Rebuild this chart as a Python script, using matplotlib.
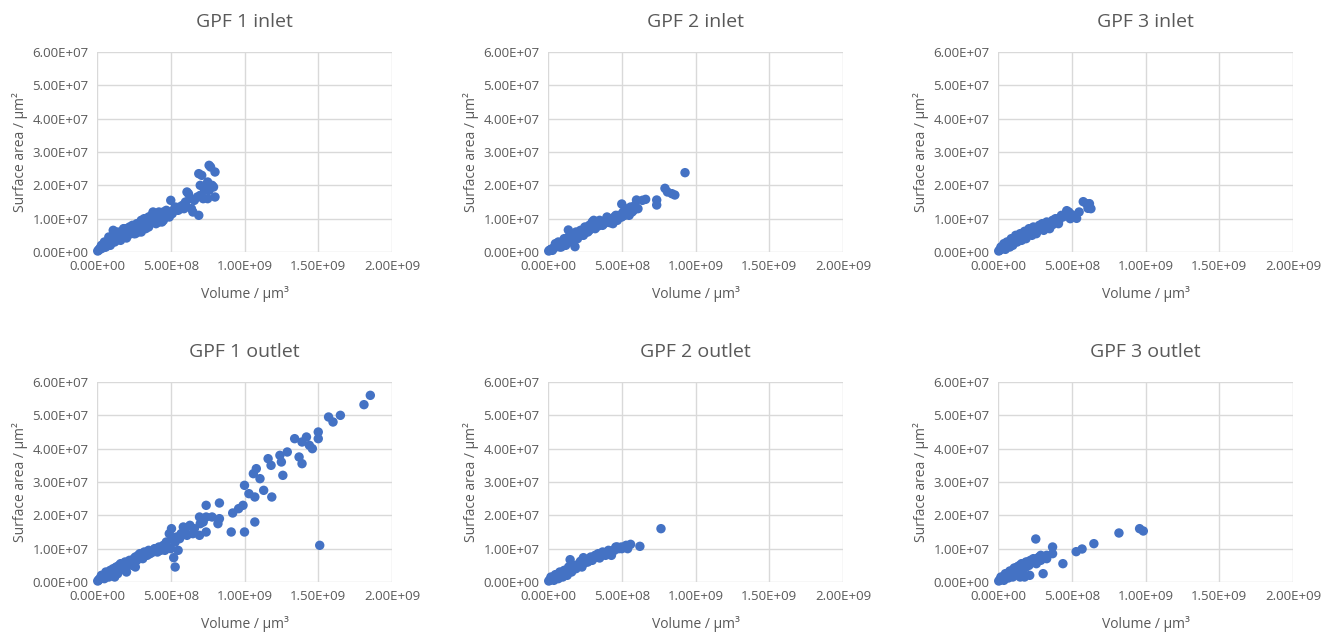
import matplotlib
matplotlib.use("Agg")
import matplotlib.pyplot as plt
from matplotlib.ticker import FuncFormatter

plt.rcParams['font.family'] = ['Open Sans', 'DejaVu Sans']

# Values: volume in units of 1e8 µm³, surface area in units of 1e7 µm²
titles = ["GPF 1 inlet", "GPF 2 inlet", "GPF 3 inlet",
          "GPF 1 outlet", "GPF 2 outlet", "GPF 3 outlet"]

gpf1_in_vol = [0.05, 0.1, 0.15, 0.2, 0.25, 0.3, 0.35, 0.4, 0.5, 0.6, 0.5, 0.7, 0.8, 0.9, 0.7, 1.0, 1.0, 1.1,
               1.2, 1.2, 1.3, 1.4, 1.5, 1.5, 1.6, 1.7, 1.8, 1.8, 1.9, 2.0, 2.0, 2.1, 2.2, 2.3, 2.4, 2.5,
               2.6, 2.6, 2.7, 2.8, 2.9, 3.0, 3.0, 3.1, 3.2, 3.3, 3.4, 3.5, 3.5, 3.6, 3.7, 3.8, 3.8, 3.9,
               4.0, 4.1, 4.2, 4.3, 4.4, 4.5, 4.5, 4.6, 4.8, 5.0, 5.0, 5.2, 5.4, 5.6, 5.8, 5.9, 6.1, 6.2,
               6.3, 6.4, 6.5, 6.9, 6.8, 6.9, 7.1, 7.2, 7.3, 7.5, 7.5, 7.6, 7.7, 7.8, 7.9, 8.0, 8.0, 7.6,
               0.3, 0.5, 0.6, 0.8, 0.9, 1.1, 1.3, 1.4, 1.6, 1.7, 1.9, 2.1, 2.2, 2.4, 2.5, 2.7, 2.8, 3.0,
               3.2, 3.3, 3.5, 3.7, 3.9, 4.0, 4.2, 4.4, 4.7, 4.9, 5.1, 5.3, 5.5, 5.7, 6.0, 6.0, 6.6, 7.0,
               7.4, 7.0]
gpf1_in_area = [0.03, 0.05, 0.08, 0.1, 0.12, 0.1, 0.15, 0.18, 0.2, 0.25, 0.14, 0.28, 0.3, 0.35, 0.2, 0.38, 0.28, 0.65,
                0.42, 0.3, 0.5, 0.45, 0.55, 0.4, 0.5, 0.6, 0.7, 0.45, 0.55, 0.6, 0.42, 0.65, 0.55, 0.7, 0.6, 0.75,
                0.8, 0.55, 0.7, 0.75, 0.85, 0.8, 0.6, 0.9, 0.75, 0.85, 0.95, 0.9, 0.75, 1.0, 0.9, 1.05, 1.2, 0.95,
                1.1, 1.0, 0.9, 1.15, 1.1, 1.2, 0.95, 1.05, 1.15, 1.55, 1.2, 1.25, 1.3, 1.35, 1.4, 1.3, 1.8, 1.75,
                1.6, 1.3, 1.2, 1.1, 1.65, 2.35, 2.3, 1.6, 1.85, 2.1, 1.6, 2.6, 2.55, 2.0, 1.95, 2.4, 1.65, 1.85,
                0.2, 0.3, 0.15, 0.45, 0.2, 0.5, 0.35, 0.6, 0.35, 0.45, 0.7, 0.5, 0.75, 0.8, 0.55, 0.85, 0.6, 0.95,
                1.0, 0.7, 1.05, 1.1, 1.15, 0.85, 1.2, 0.9, 1.25, 1.05, 1.15, 1.35, 1.25, 1.3, 1.5, 1.4, 1.55, 1.7,
                1.95, 2.0]

gpf2_in_vol = [0.05, 0.1, 0.15, 0.2, 0.3, 0.4, 0.5, 0.6, 0.7, 0.8, 0.9, 1.0, 0.8, 1.1, 1.2, 1.3, 1.38, 1.4, 1.5,
               1.6, 1.7, 1.83, 1.8, 1.9, 2.0, 2.1, 2.2, 2.3, 2.4, 2.5, 2.6, 2.7, 2.8, 2.9, 3.0, 3.1, 3.2,
               3.3, 3.4, 3.5, 3.6, 3.7, 3.8, 3.9, 4.0, 4.1, 4.2, 4.3, 4.4, 4.5, 4.6, 4.8, 5.0, 5.0, 5.2,
               5.3, 5.5, 5.6, 5.8, 6.0, 6.1, 6.4, 6.62, 7.37, 7.37, 7.93, 8.1, 8.4, 8.6, 9.29,
               0.3, 0.5, 0.7, 0.9, 1.1, 1.2, 1.4, 1.6, 1.7, 1.9, 2.0, 2.2, 2.4, 2.5, 2.7, 2.8, 3.0, 3.1,
               3.2, 3.5, 3.7, 4.0, 4.2, 4.4, 4.6, 4.7, 4.9, 5.1, 5.4, 5.5, 5.7, 5.9]
gpf2_in_area = [0.03, 0.05, 0.06, 0.08, 0.1, 0.12, 0.15, 0.2, 0.18, 0.25, 0.22, 0.3, 0.15, 0.32, 0.28, 0.35, 0.66, 0.3, 0.4,
                0.38, 0.45, 0.16, 0.5, 0.45, 0.5, 0.55, 0.5, 0.6, 0.58, 0.65, 0.6, 0.7, 0.65, 0.75, 0.72, 0.8, 0.75,
                0.8, 0.78, 0.85, 0.82, 0.9, 0.85, 0.95, 0.9, 0.95, 0.88, 1.0, 0.95, 1.05, 1.0, 1.1, 1.44, 1.05, 1.1,
                1.2, 1.15, 1.35, 1.25, 1.56, 1.3, 1.55, 1.58, 1.56, 1.41, 1.91, 1.8, 1.75, 1.71, 2.38,
                0.05, 0.25, 0.3, 0.15, 0.4, 0.2, 0.45, 0.3, 0.55, 0.6, 0.4, 0.65, 0.5, 0.75, 0.6, 0.8, 0.9, 0.95,
                0.7, 0.95, 0.8, 1.05, 1.0, 0.85, 1.1, 0.95, 1.05, 1.2, 1.3, 1.1, 1.2, 1.4]

gpf3_in_vol = [0.05, 0.1, 0.15, 0.2, 0.3, 0.4, 0.5, 0.6, 0.7, 0.8, 0.9, 1.0, 1.1, 1.2, 1.3, 1.4, 1.5, 1.6,
               1.7, 1.8, 1.9, 2.0, 2.1, 2.2, 2.3, 2.4, 2.5, 2.6, 2.8, 3.0, 3.1, 3.2, 3.4, 3.6, 3.7, 3.8,
               4.0, 4.1, 4.2, 4.4, 4.5, 4.66, 4.8, 5.0, 5.33, 5.5, 5.78, 6.0, 6.1, 6.2, 6.3,
               0.2, 0.4, 0.5, 0.6, 0.8, 0.9, 1.0, 1.2, 1.3, 1.5, 1.6, 1.8, 1.9, 2.1, 2.3, 2.4, 2.6, 2.8,
               3.0, 3.3, 3.5, 3.7, 3.9, 4.1, 4.3, 4.6, 4.8, 4.9]
gpf3_in_area = [0.03, 0.05, 0.07, 0.08, 0.12, 0.15, 0.18, 0.22, 0.25, 0.28, 0.3, 0.35, 0.38, 0.4, 0.42, 0.45, 0.48, 0.5,
                0.52, 0.55, 0.58, 0.6, 0.62, 0.65, 0.6, 0.7, 0.68, 0.72, 0.75, 0.78, 0.65, 0.82, 0.85, 0.88, 0.82, 0.95,
                0.98, 0.9, 1.02, 1.05, 1.1, 1.24, 1.15, 1.12, 1.01, 1.2, 1.51, 1.45, 1.31, 1.45, 1.3,
                0.15, 0.25, 0.08, 0.3, 0.15, 0.4, 0.2, 0.5, 0.3, 0.55, 0.35, 0.62, 0.4, 0.7, 0.5, 0.75, 0.55, 0.8,
                0.85, 0.9, 0.7, 0.95, 1.0, 0.85, 1.1, 1.15, 1.2, 1.0]

gpf1_out_vol = [0.05, 0.1, 0.15, 0.2, 0.3, 0.4, 0.5, 0.6, 0.7, 0.8, 0.9, 1.0, 1.1, 1.2, 1.2, 1.3, 1.4, 1.5, 1.6,
                1.8, 2.0, 2.2, 2.4, 2.6, 2.6, 2.8, 3.1, 3.3, 3.6, 3.8, 4.0, 4.3, 4.7, 4.9, 5.05, 5.2, 5.3,
                5.5, 5.7, 5.85, 6.3, 6.5, 6.95, 6.95, 7.4, 7.4, 7.4, 7.8, 8.2, 8.3, 8.3, 9.1, 9.2, 9.6, 9.9,
                10.0, 10.0, 10.3, 10.6, 10.7, 10.7, 10.8, 11.05, 11.3, 11.6, 11.8, 11.85, 12.4, 12.5, 12.6,
                12.9, 13.4, 13.7, 13.9, 13.9, 14.2, 14.4, 14.6, 15.0, 15.0, 15.1, 15.7, 16.0, 16.5, 18.1, 18.53,
                0.3, 0.5, 0.6, 0.8, 0.9, 1.0, 1.1, 1.3, 1.4, 1.5, 1.6, 1.7, 1.9, 2.1, 2.2, 2.3, 2.4, 2.5,
                2.7, 2.9, 3.0, 3.2, 3.4, 3.5, 3.7, 3.9, 4.1, 4.2, 4.4, 4.5, 4.6, 4.8, 5.0, 5.1, 5.3, 5.4,
                5.6, 6.0, 6.1, 6.6, 7.0, 7.2]
gpf1_out_area = [0.03, 0.05, 0.08, 0.1, 0.12, 0.15, 0.18, 0.2, 0.22, 0.25, 0.28, 0.3, 0.25, 0.4, 0.15, 0.35, 0.45, 0.5, 0.45,
                 0.55, 0.3, 0.6, 0.65, 0.75, 0.45, 0.8, 0.7, 0.85, 0.85, 0.9, 1.0, 0.95, 1.2, 1.45, 1.6, 0.73, 0.45,
                 0.95, 1.45, 1.65, 1.7, 1.45, 1.95, 1.4, 2.3, 1.95, 1.5, 1.95, 1.75, 2.37, 1.9, 1.5, 2.07, 2.2, 2.3,
                 2.9, 1.5, 2.65, 3.25, 2.55, 1.8, 3.4, 3.1, 2.75, 3.7, 3.5, 2.55, 3.8, 3.6, 3.2,
                 3.9, 4.3, 3.75, 4.2, 3.55, 4.35, 4.1, 4.0, 4.5, 4.3, 1.1, 4.95, 4.8, 5.0, 5.32, 5.6,
                 0.2, 0.1, 0.3, 0.15, 0.35, 0.2, 0.4, 0.45, 0.25, 0.35, 0.55, 0.4, 0.6, 0.5, 0.65, 0.55, 0.5, 0.7,
                 0.65, 0.85, 0.75, 0.9, 0.8, 0.95, 0.9, 1.0, 0.9, 1.05, 1.0, 1.1, 0.95, 1.05, 1.0, 1.3, 1.2, 1.35,
                 1.3, 1.5, 1.4, 1.6, 1.75, 1.8]

gpf2_out_vol = [0.05, 0.1, 0.15, 0.2, 0.3, 0.4, 0.5, 0.6, 0.7, 0.8, 0.9, 1.0, 1.1, 1.2, 1.3, 1.5, 1.4, 1.6,
                1.8, 2.0, 2.2, 2.3, 2.4, 2.6, 2.8, 3.0, 3.1, 3.3, 3.4, 3.6, 3.8, 4.0, 4.2, 4.4, 4.6, 4.8,
                4.98, 5.2, 5.4, 5.6, 6.23, 7.66,
                0.2, 0.4, 0.5, 0.7, 0.8, 1.0, 1.1, 1.3, 1.4, 1.6, 1.7, 1.9, 2.1, 2.2, 2.4, 2.5, 2.7, 2.9,
                3.0, 3.2, 3.4, 3.5, 3.7, 3.9, 4.1, 4.3, 4.5, 4.7, 5.0, 5.3]
gpf2_out_area = [0.03, 0.05, 0.07, 0.08, 0.1, 0.12, 0.15, 0.18, 0.2, 0.22, 0.25, 0.28, 0.3, 0.32, 0.35, 0.67, 0.38, 0.42,
                 0.45, 0.5, 0.52, 0.45, 0.73, 0.6, 0.65, 0.7, 0.72, 0.8, 0.75, 0.82, 0.85, 0.88, 0.85, 0.95, 1.05, 1.0,
                 1.05, 1.05, 1.0, 1.13, 1.07, 1.6,
                 0.15, 0.05, 0.22, 0.1, 0.3, 0.15, 0.35, 0.2, 0.45, 0.3, 0.5, 0.4, 0.55, 0.62, 0.55, 0.68, 0.6, 0.75,
                 0.65, 0.8, 0.85, 0.72, 0.9, 0.8, 0.95, 0.8, 0.95, 1.05, 1.0, 1.1]

gpf3_out_vol = [0.05, 0.1, 0.15, 0.2, 0.3, 0.4, 0.5, 0.6, 0.7, 0.8, 0.9, 1.0, 1.1, 1.2, 1.3, 1.0, 1.5, 1.6,
                1.8, 1.9, 2.0, 2.15, 2.2, 2.4, 2.56, 2.6, 2.8, 2.9, 3.06, 3.3, 3.7, 3.7, 4.4, 5.3, 5.7, 6.5,
                8.2, 9.6, 9.85,
                0.2, 0.4, 0.5, 0.7, 0.8, 1.0, 1.1, 1.2, 1.4, 1.4, 1.6, 1.7, 1.9, 2.1, 2.3, 2.5, 2.7, 2.9,
                3.1, 3.3, 1.5, 1.8]
gpf3_out_area = [0.03, 0.05, 0.07, 0.1, 0.12, 0.15, 0.18, 0.2, 0.25, 0.28, 0.3, 0.35, 0.38, 0.4, 0.45, 0.15, 0.5, 0.3,
                 0.55, 0.45, 0.6, 0.2, 0.65, 0.7, 1.29, 0.55, 0.75, 0.8, 0.25, 0.7, 1.05, 0.85, 0.55, 0.91, 0.99, 1.15,
                 1.47, 1.6, 1.53,
                 0.15, 0.05, 0.25, 0.12, 0.33, 0.2, 0.42, 0.25, 0.48, 0.2, 0.55, 0.35, 0.6, 0.5, 0.65, 0.6, 0.72, 0.65,
                 0.75, 0.8, 0.15, 0.15]

x_ticks = [0, 5, 10, 15, 20]
y_ticks = [0, 1, 2, 3, 4, 5, 6]

series = [(gpf1_in_vol, gpf1_in_area), (gpf2_in_vol, gpf2_in_area), (gpf3_in_vol, gpf3_in_area),
          (gpf1_out_vol, gpf1_out_area), (gpf2_out_vol, gpf2_out_area), (gpf3_out_vol, gpf3_out_area)]

W, H = 1336, 638
fig = plt.figure(figsize=(W / 100, H / 100), dpi=100)
fig.patch.set_facecolor('white')

lefts = [97, 548, 998]
tops = [52, 382]
aw, ah = 295, 200
text_col = '#595959'
grid_col = '#D9D9D9'
dot_col = '#4472C4'

fx = FuncFormatter(lambda v, p: f"{v * 1e8:.2E}")
fy = FuncFormatter(lambda v, p: f"{v * 1e7:.2E}")

for i, (title, (xs, ys)) in enumerate(zip(titles, series)):
    r, c = divmod(i, 3)
    ax = fig.add_axes([lefts[c] / W, 1 - (tops[r] + ah) / H, aw / W, ah / H])
    ax.scatter(xs, ys, s=46, color=dot_col, edgecolors='none', zorder=3, clip_on=False)
    ax.set_xlim(0, 20)
    ax.set_ylim(0, 6)
    ax.set_xticks(x_ticks)
    ax.set_yticks(y_ticks)
    ax.xaxis.set_major_formatter(fx)
    ax.yaxis.set_major_formatter(fy)
    ax.grid(True, color=grid_col, linewidth=1.0, zorder=0)
    ax.set_axisbelow(True)
    for sp in ax.spines.values():
        sp.set_visible(False)
    ax.tick_params(length=0, labelsize=9.5, colors=text_col, pad=6)
    ax.set_title(title, fontsize=14, color=text_col, pad=18)
    ax.set_xlabel("Volume / μm³", fontsize=10, color=text_col, labelpad=9)
    ax.set_ylabel("Surface area / μm²", fontsize=10, color=text_col, labelpad=3)

fig.savefig("out.png", dpi=100, facecolor='white')
